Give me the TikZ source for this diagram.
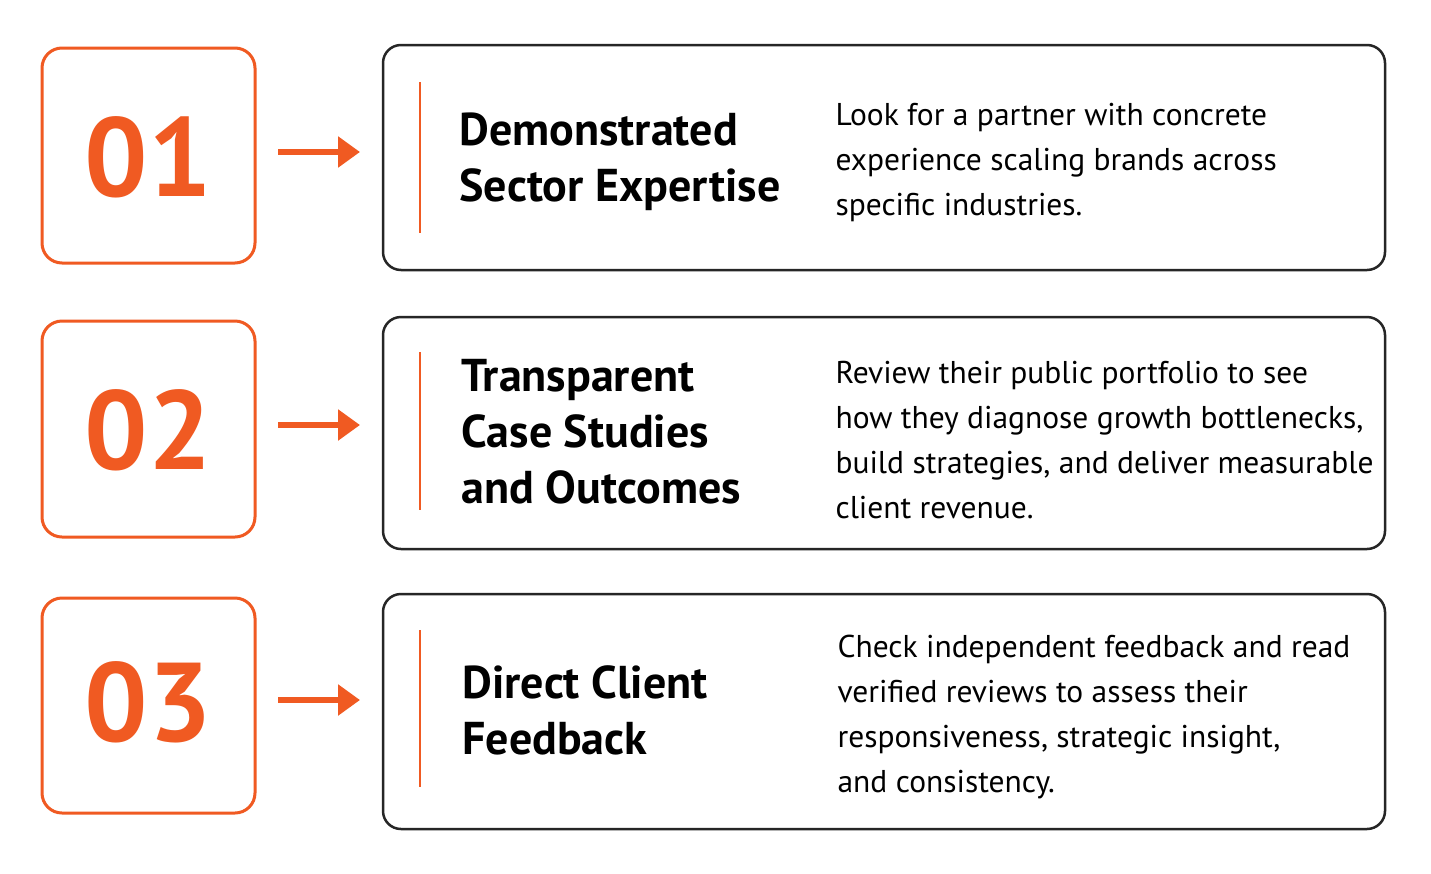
\documentclass[tikz,border=0pt]{standalone}
\usepackage{fontspec}
\setmainfont{PT Sans}
\usetikzlibrary{arrows.meta}
\definecolor{org}{HTML}{F05A22}
\begin{document}
\begin{tikzpicture}[x=1pt,y=-1pt,
 numbox/.style={draw=org,line width=3pt,rounded corners=20pt},
 card/.style={draw=black!85,line width=2.5pt,rounded corners=18pt},
 bar/.style={draw=org,line width=2.5pt},
 arr/.style={draw=org,line width=6pt,-{Triangle[length=22pt,width=30pt]}},
 num/.style={text=org,font=\fontsize{112}{112}\selectfont\bfseries,anchor=center},
 ttl/.style={anchor=west,align=left,font=\fontsize{46}{56}\selectfont\bfseries},
 dsc/.style={anchor=west,align=left,font=\fontsize{31.5}{45}\selectfont}]
\useasboundingbox (0,0) rectangle (1431,873);
\fill[white] (0,0) rectangle (1431,873);
% row 1
\draw[numbox] (42,48) rectangle (255,263);
\node[num] (n1) at (148.5,157) {01};
\draw[card] (383,45) rectangle (1385,270);
\coordinate (a1s) at (278,152); \coordinate (a1e) at (360,152);
\draw[arr] (a1s) -- (a1e);
\coordinate (b1t) at (420,82); \coordinate (b1b) at (420,233);
\draw[bar] (b1t) -- (b1b);
\node[ttl] (t1) at (456,162) {Demonstrated\\Sector Expertise};
\node[dsc] (d1) at (832,162) {Look for a partner with concrete\\experience scaling brands across\\specific industries.};
% row 2
\draw[numbox] (42,321) rectangle (255,537);
\node[num] (n2) at (148.5,430) {02};
\draw[card] (383,317) rectangle (1385,549);
\coordinate (a2s) at (278,425); \coordinate (a2e) at (360,425);
\draw[arr] (a2s) -- (a2e);
\coordinate (b2t) at (420,352); \coordinate (b2b) at (420,510);
\draw[bar] (b2t) -- (b2b);
\node[ttl] (t2) at (458,432) {Transparent\\Case Studies\\and Outcomes};
\node[dsc] (d2) at (832,440) {Review their public portfolio to see\\how they diagnose growth bottlenecks,\\build strategies, and deliver measurable\\client revenue.};
% row 3
\draw[numbox] (42,598) rectangle (255,813);
\node[num] (n3) at (148.5,702) {03};
\draw[card] (383,594) rectangle (1385,829);
\coordinate (a3s) at (278,700); \coordinate (a3e) at (360,700);
\draw[arr] (a3s) -- (a3e);
\coordinate (b3t) at (420,630); \coordinate (b3b) at (420,787);
\draw[bar] (b3t) -- (b3b);
\node[ttl] (t3) at (459,710) {Direct Client\\Feedback};
\node[dsc] (d3) at (834,717) {Check independent feedback and read\\verified reviews to assess their\\responsiveness, strategic insight,\\and consistency.};
\end{tikzpicture}
\end{document}
